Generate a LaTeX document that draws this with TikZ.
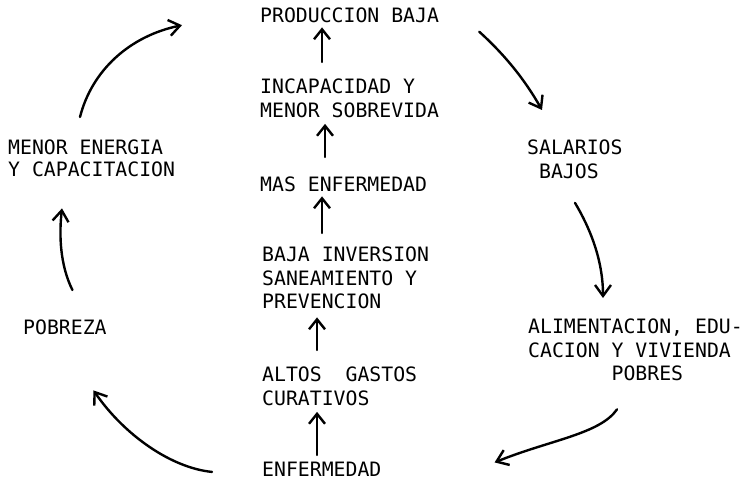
\documentclass[tikz,border=0pt]{standalone}
\usepackage{fontspec}
\newfontfamily\twfont{DejaVu Sans Mono}
\usetikzlibrary{arrows.meta,calc}
\tikzset{
  lbl/.style={font={\twfont\fontsize{19.8}{23.5}\selectfont}, align=left, anchor=north west, inner sep=0pt, text=black},
  arr/.style={line width=2.2pt, line cap=round, -{Straight Barb[length=10pt,width=16pt,line width=2.4pt]}},
  carr/.style={line width=2.4pt, line cap=round, -{Straight Barb[length=11pt,width=16pt,line width=2.4pt]}}
}
\begin{document}
\begin{tikzpicture}[x=1pt,y=-1pt]
\path[use as bounding box, fill=white] (0,0) rectangle (744,481);
% center column
\node[lbl] (prod)  at (260,8)   {PRODUCCION BAJA};
\node[lbl] (incap) at (260,79)  {INCAPACIDAD Y\\MENOR SOBREVIDA};
\node[lbl] (mas)   at (260,177) {MAS ENFERMEDAD};
\node[lbl] (baja)  at (262,247) {BAJA INVERSION\\SANEAMIENTO Y\\PREVENCION};
\node[lbl] (altos) at (262,367) {ALTOS\ \ GASTOS\\CURATIVOS};
\node[lbl] (enf)   at (262,462) {ENFERMEDAD};
% left
\node[lbl] (menor) at (8,140)   {MENOR ENERGIA\\[-1.5pt]Y CAPACITACION};
\node[lbl] (pob)   at (23,320)  {POBREZA};
% right
\node[lbl] (sal)   at (527,140) {SALARIOS\\\ BAJOS};
\node[lbl] (alim)  at (528,319) {ALIMENTACION, EDU-\\CACION Y VIVIENDA\\\ \ \ \ \ \ \ POBRES};
% center arrows
\draw[arr] ([shift={(55,-7)}]enf.north west)   -- ([shift={(55,6)}]altos.south west);
\draw[arr] ([shift={(55,-17)}]altos.north west) -- ([shift={(55,8)}]baja.south west);
\draw[arr] ([shift={(60,-14)}]baja.north west)  -- ([shift={(62,4)}]mas.south west);
\draw[arr] ([shift={(65,-20)}]mas.north west)   -- ([shift={(65,6)}]incap.south west);
\draw[arr] ([shift={(62,-17)}]incap.north west) -- ([shift={(62,4)}]prod.south west);
% cycle arrows
\draw[carr] ([shift={(40,16)}]prod.east) .. controls (505,55) and (525,80) .. ([shift={(15,-30)}]sal.north west);
\draw[carr] ([shift={(48,24)}]sal.south west) .. controls (590,228) and (603,260) .. ([shift={(75,-21)}]alim.north west);
\draw[carr] ([shift={(89,28)}]alim.south west) .. controls (600,434) and (550,440) .. ([shift={(113,-7)}]enf.east);
\draw[carr] ([shift={(-50,2.5)}]enf.west) .. controls (172,468) and (125,436) .. ([shift={(28.5,55)}]pob.south);
\draw[carr] ([shift={(7.5,-30)}]pob.north) .. controls (60,265) and (59,235) .. ([shift={(54,31)}]menor.south west);
\draw[carr] ([shift={(72,-23)}]menor.north west) .. controls (92,70) and (130,36) .. ([shift={(-78,9.5)}]prod.west);
\end{tikzpicture}
\end{document}
